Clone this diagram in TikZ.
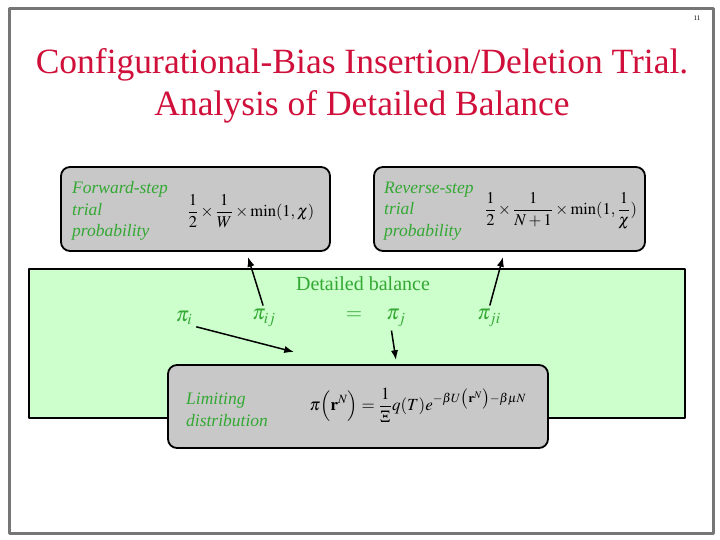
\documentclass[tikz,border=0pt]{standalone}
\usepackage{mathptmx}
\usepackage{fontspec}
\setmainfont{Liberation Serif}
\usetikzlibrary{arrows.meta}
\definecolor{crimson}{HTML}{D0103A}
\definecolor{leaf}{HTML}{33A833}
\definecolor{mint}{HTML}{CCFFCC}
\definecolor{stone}{HTML}{C8C8C8}
\definecolor{rim}{HTML}{767676}
\tikzset{
  cbox/.style={draw,fill=stone,line width=1.8pt,rounded corners=9pt,minimum height=84pt},
  lab/.style={leaf,font=\itshape\fontsize{17.5}{21.5}\selectfont,align=left,anchor=west,inner sep=0pt},
  eqn/.style={font=\fontsize{16.5}{19}\selectfont,inner sep=0pt},
  pil/.style={leaf,font=\fontsize{21}{24}\selectfont,inner sep=1pt},
  link/.style={->,line width=1.5pt,shorten <=3pt}
}
\begin{document}
\begin{tikzpicture}[x=1pt,y=-1pt,>=Latex,line join=round]
\useasboundingbox (0,0) rectangle (720,540);
\fill[white] (0,0) rectangle (720,540);
\draw[rim,line width=3pt] (9,9) rectangle (713,533);
\node[font=\fontsize{7}{8}\selectfont] (pg) at (697,18) {11};
\node[crimson,font=\fontsize{35.5}{42}\selectfont,align=center] (title) at (362,86) {Configurational-Bias Insertion/Deletion Trial.\\Analysis of Detailed Balance};
% detailed balance panel
\node[draw,fill=mint,line width=1.5pt,minimum width=656pt,minimum height=149pt,inner sep=0pt] (bal) at (357,343.5) {};
\node[leaf,font=\fontsize{20}{22}\selectfont] (baltxt) at (363,284) {Detailed balance};
% trial probability boxes
\node[cbox,minimum width=269pt] (fwd) at (195.5,209) {};
\node[lab] (fwdtxt) at (72,211) {Forward-step\\trial\\probability};
\node[eqn] (fwdeq) at (251,211) {$\displaystyle\frac{1}{2}\times\frac{1}{W}\times\min(1,\chi)$};
\node[cbox,minimum width=271pt] (rev) at (509.5,209) {};
\node[lab] (revtxt) at (384,211) {Reverse-step\\trial\\probability};
\node[eqn] (reveq) at (561,211) {$\displaystyle\frac{1}{2}\times\frac{1}{N+1}\times\min(1,\frac{1}{\chi})$};
% limiting distribution box
\node[cbox,minimum width=380pt,minimum height=83pt] (lim) at (358,406.5) {};
\node[lab] (limtxt) at (186,410) {Limiting\\distribution};
\node[eqn,font=\fontsize{17}{20}\selectfont] (limeq) at (418,405) {$\displaystyle\pi\Bigl(\mathbf{r}^N\Bigr)=\frac{1}{\Xi}q(T)e^{-\beta U\bigl(\mathbf{r}^N\bigr)-\beta\mu N}$};
% balance terms
\node[pil] (pi) at (184,318) {$\pi_i$};
\node[pil] (pij) at (264,318) {$\pi_{ij}$};
\node[pil] (eq) at (354,316) {$=$};
\node[pil] (pj) at (396,318) {$\pi_j$};
\node[pil] (pji) at (489,318) {$\pi_{ji}$};
\coordinate (fwdtip) at (248,257);
\coordinate (revtip) at (503,257);
\coordinate (limtipa) at (294,352);
\coordinate (limtipb) at (396,360);
\draw[link] (pij.north) -- (fwdtip);
\draw[link] (pji.north) -- (revtip);
\draw[link] (pi.south east) -- (limtipa);
\draw[link] ([xshift=-5pt]pj.south) -- (limtipb);
\end{tikzpicture}
\end{document}
